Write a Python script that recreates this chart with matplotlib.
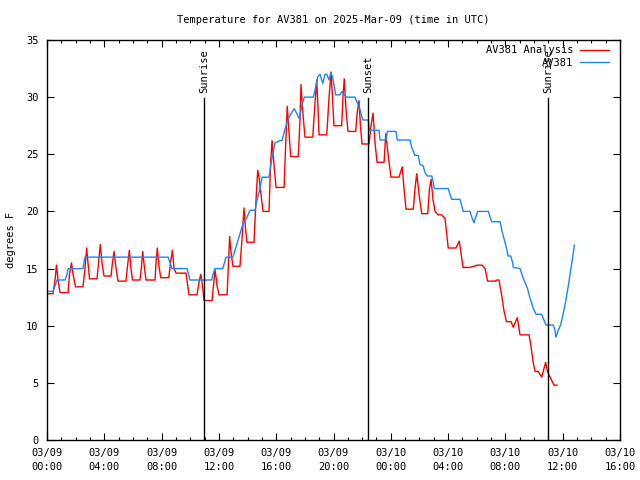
import matplotlib
matplotlib.use("Agg")
import matplotlib.pyplot as plt
from matplotlib.ticker import MultipleLocator

# hours since 2025-03-09 00:00 UTC
analysis_hours = [0.00, 0.42, 0.56, 0.66, 0.77, 0.91, 1.47, 1.57, 1.71, 1.82, 1.99, 2.51, 2.65, 2.77, 2.86,
    2.97, 3.49, 3.60, 3.72, 3.84, 3.98, 4.47, 4.57, 4.68, 4.82, 4.96, 5.51, 5.62, 5.75, 5.86, 5.97,
    6.49, 6.60, 6.68, 6.81, 6.91, 7.54, 7.61, 7.70, 7.82, 7.94, 8.50, 8.62, 8.75, 8.87, 9.01, 9.70,
    9.91, 10.47, 10.61, 10.73, 10.86, 10.96, 11.52, 11.62, 11.73, 11.87, 12.01, 12.57, 12.67, 12.75,
    12.84, 12.98, 13.47, 13.61, 13.75, 13.86, 13.96, 14.45, 14.59, 14.71, 14.80, 14.94, 15.08, 15.50,
    15.60, 15.71, 15.85, 15.99, 16.55, 16.65, 16.77, 16.89, 17.01, 17.54, 17.66, 17.73, 17.87, 18.01,
    18.55, 18.71, 18.83, 18.92, 18.99, 19.53, 19.69, 19.83, 19.93, 20.03, 20.57, 20.66, 20.75, 20.87,
    21.01, 21.55, 21.64, 21.78, 21.88, 21.99, 22.48, 22.62, 22.76, 22.90, 23.04, 23.53, 23.65, 23.81,
    24.01, 24.57, 24.80, 24.92, 25.06, 25.57, 25.69, 25.81, 25.97, 26.16, 26.58, 26.70, 26.81, 26.95,
    27.09, 27.29, 27.55, 27.78, 28.01, 28.55, 28.78, 29.04, 29.53, 29.81, 30.02, 30.37, 30.58, 30.76,
    31.27, 31.41, 31.55, 31.76, 31.90, 32.08, 32.39, 32.55, 32.83, 33.02, 33.65, 33.79, 33.93, 34.07,
    34.28, 34.53, 34.81, 34.94, 35.04, 35.23, 35.39, 35.60]
analysis_temp = [12.8, 12.8, 14.0, 15.3, 14.0, 12.9, 12.9, 14.5, 15.5, 14.5, 13.4, 13.4, 15.0, 16.8, 15.5,
    14.1, 14.1, 15.5, 17.1, 15.5, 14.35, 14.35, 15.5, 16.5, 15.0, 13.9, 13.9, 15.2, 16.6, 15.0, 14.0,
    14.0, 15.2, 16.5, 15.0, 14.0, 14.0, 15.5, 16.8, 15.2, 14.2, 14.2, 15.5, 16.6, 15.0, 14.6, 14.6,
    12.7, 12.7, 13.8, 14.5, 13.5, 12.2, 12.2, 13.5, 14.9, 13.5, 12.7, 12.7, 15.5, 17.8,
    16.5, 15.2, 15.2, 17.5, 20.3, 18.5, 17.3, 17.3, 21.0, 23.6, 23.0, 21.5, 20.0, 20.0,
    24.0, 26.2, 24.0, 22.1, 22.1, 25.5, 29.2, 27.0, 24.8, 24.8, 28.0, 31.1, 28.5, 26.5,
    26.5, 29.5, 31.5, 29.0, 26.7, 26.7, 30.0, 32.2, 30.0, 27.5, 27.5, 30.0, 31.6, 29.0,
    27.0, 27.0, 28.5, 29.7, 27.5, 25.9, 25.9, 27.5, 28.6, 26.0, 24.3, 24.3, 26.8, 25.0,
    23.0, 23.0, 23.9, 22.0, 20.2, 20.2, 22.0, 23.3, 21.5, 19.8, 19.8, 22.0, 22.8, 21.0,
    20.0, 19.7, 19.7, 19.4, 16.8, 16.8, 17.4, 15.1, 15.1, 15.2, 15.3, 15.3, 15.0, 13.9,
    13.9, 14.0, 14.0, 12.5, 11.3, 10.35, 10.35, 9.86, 10.7, 9.2, 9.2, 8.16, 6.85, 6.0,
    6.0, 5.5, 6.8, 6.0, 5.7, 5.2, 4.8, 4.8]

obs_hours = [0.00, 0.42, 0.56, 0.70, 1.26, 1.40, 1.47, 2.51, 2.58, 2.65, 8.45, 8.59, 8.73, 9.77, 9.88,
    9.98, 11.50, 11.59, 11.73, 12.27, 12.39, 12.50, 12.98, 13.70, 13.82, 14.03, 14.17, 14.52, 14.66,
    14.87, 15.01, 15.50, 15.64, 15.92, 16.27, 16.41, 16.57, 16.75, 16.96, 17.26, 17.42, 17.61, 17.78,
    17.96, 18.59, 18.71, 18.90, 19.06, 19.25, 19.41, 19.53, 19.69, 19.80, 19.93, 20.06, 20.15, 20.45,
    20.59, 20.73, 20.92, 21.50, 21.62, 21.75, 21.90, 21.97, 22.06, 22.43, 22.50, 23.18, 23.25, 23.66,
    23.76, 24.36, 24.45, 25.34, 25.46, 25.69, 25.92, 26.04, 26.25, 26.39, 26.55, 26.86, 26.97, 27.04,
    28.01, 28.13, 28.25, 28.83, 28.95, 29.06, 29.53, 29.65, 29.81, 29.93, 30.07, 30.81, 30.93, 31.05,
    31.63, 31.74, 31.97, 32.11, 32.18, 32.37, 32.51, 32.55, 33.02, 33.23, 33.53, 33.72, 33.95, 34.14,
    34.53, 34.69, 34.83, 35.34, 35.46, 35.53, 35.69, 35.85, 36.03, 36.22, 36.38, 36.56, 36.70, 36.81]
obs_temp = [13.0, 13.0, 13.5, 14.0, 14.0, 14.5, 15.0, 15.0, 15.5, 16.0, 16.0, 15.5, 15.0, 15.0, 14.5,
    14.0, 14.0, 14.5, 15.0, 15.0, 15.5, 16.0, 16.0, 19.0, 19.1, 19.7, 20.1, 20.1, 21.0,
    22.0, 23.0, 23.0, 24.2, 26.0, 26.2, 26.2, 27.0, 27.8, 28.4, 29.0, 28.6, 28.1, 29.2,
    30.0, 30.0, 30.6, 31.8, 32.0, 31.2, 32.0, 32.0, 31.5, 32.1, 31.8, 30.9, 30.2, 30.2,
    30.5, 30.2, 30.0, 30.0, 29.6, 29.3, 28.7, 28.3, 28.0, 28.0, 27.1, 27.1, 26.25, 26.25,
    27.0, 27.0, 26.25, 26.25, 25.6, 24.9, 24.9, 24.1, 24.0, 23.4, 23.1, 23.1, 22.5, 22.0,
    22.0, 21.5, 21.06, 21.06, 20.5, 20.0, 20.0, 19.5, 19.0, 19.5, 20.0, 20.0, 19.5, 19.1,
    19.1, 18.4, 17.3, 16.6, 16.1, 16.1, 15.5, 15.1, 15.0, 14.2, 13.3, 12.4, 11.5, 11.0,
    11.0, 10.5, 10.06, 10.06, 9.6, 9.0, 9.6, 10.06, 11.0, 12.2, 13.4, 14.9, 16.0, 17.06]

sun_events = ["Sunrise", "Sunset", "Sunrise"]
sun_hours = [10.96, 22.43, 34.97]

xtick_hours = [0, 4, 8, 12, 16, 20, 24, 28, 32, 36, 40]
xtick_labels = ["03/09\n00:00", "03/09\n04:00", "03/09\n08:00", "03/09\n12:00", "03/09\n16:00",
                "03/09\n20:00", "03/10\n00:00", "03/10\n04:00", "03/10\n08:00", "03/10\n12:00",
                "03/10\n16:00"]

plt.rcParams['font.family'] = ['DejaVu Sans Mono']
FS = 7.5

fig = plt.figure(figsize=(6.4, 4.8), dpi=100)
ax = fig.add_axes([47/640, 40/480, 573/640, 400/480])

ax.plot(analysis_hours, analysis_temp, color='#ff0000', lw=1.0, label='AV381 Analysis')
ax.plot(obs_hours, obs_temp, color='#1a86ff', lw=1.0, label='AV381')

for name, h in zip(sun_events, sun_hours):
    ax.plot([h, h], [0, 29.9], color='black', lw=1.0)
    ax.text(h, 30.4, name, rotation=90, ha='center', va='bottom', fontsize=FS)

ax.set_xlim(0, 40)
ax.set_ylim(0, 35)
ax.set_xticks(xtick_hours)
ax.set_xticklabels(xtick_labels, fontsize=FS, linespacing=1.5)
ax.xaxis.set_minor_locator(MultipleLocator(1))
ax.yaxis.set_major_locator(MultipleLocator(5))
ax.tick_params(axis='y', labelsize=FS)
ax.tick_params(which='major', direction='in', length=5, width=0.8, top=True, right=True, pad=6)
ax.tick_params(which='minor', direction='in', length=2.5, width=0.8, top=True, right=False)
ax.tick_params(axis='x', which='major', pad=6)
for s in ax.spines.values():
    s.set_linewidth(1.0)

ax.set_ylabel('degrees F', fontsize=FS, labelpad=7)
ax.set_title('Temperature for AV381 on 2025-Mar-09 (time in UTC)', fontsize=FS, pad=12)

leg = ax.legend(loc='upper right', bbox_to_anchor=(1 - 6.0/573, 1.0), fontsize=FS, frameon=False,
                markerfirst=False, handlelength=2.8, handletextpad=0.6, borderaxespad=0.3,
                labelspacing=0.25, borderpad=0.2)
for t in leg.get_texts():
    t.set_ha('right')

fig.savefig('out.png', dpi=100)
